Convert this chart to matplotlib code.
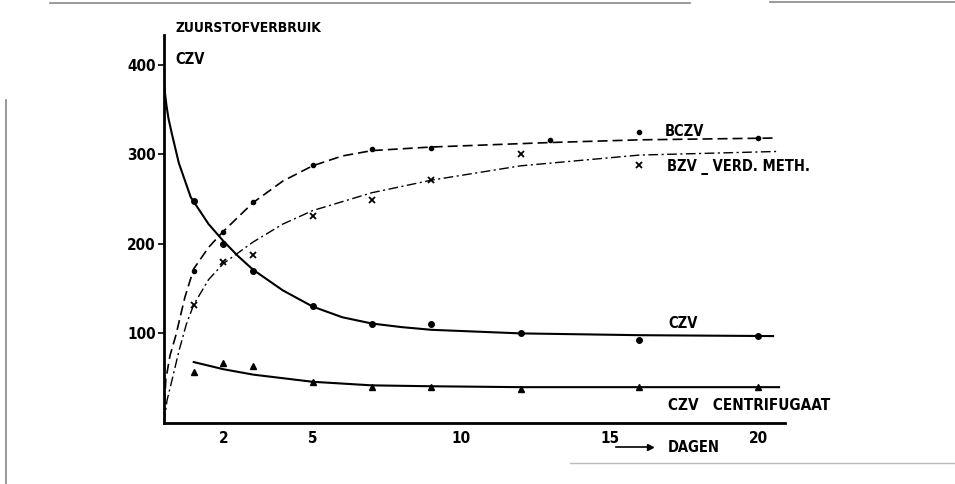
import matplotlib.pyplot as plt
from matplotlib.lines import Line2D

plt.rcParams['font.family'] = ['DejaVu Sans']
plt.rcParams['font.stretch'] = 'condensed'

# gemeten punten (dagen, mg O2/l)
dagen_czv = [1, 2, 3, 5, 7, 9, 12, 16, 20]
czv = [248, 200, 170, 131, 110, 111, 100, 93, 97]

dagen_bczv = [1, 2, 3, 5, 7, 9, 13, 16, 20]
bczv = [170, 213, 247, 288, 306, 307, 316, 325, 318]

dagen_bzv = [1, 2, 3, 5, 7, 9, 12, 16]
bzv = [132, 180, 187, 231, 249, 271, 300, 288]

dagen_centr = [1, 2, 3, 5, 7, 9, 12, 16, 20]
czv_centr = [57, 67, 64, 46, 40, 40, 38, 40, 40]

# getekende verloopcurves
curve_czv_x = [0, 0.03, 0.08, 0.15, 0.27, 0.5, 0.9, 1.5, 2, 2.5, 3, 4, 5, 6, 7, 8, 9, 12, 16, 20.5]
curve_czv_y = [380, 369, 355, 340, 322, 290, 252, 222, 203, 186, 171, 148, 130, 118, 111, 107, 104, 100, 98, 97]

curve_bczv_x = [0, 0.06, 0.2, 0.4, 0.7, 1, 1.5, 2, 3, 4, 5, 6, 7, 9, 13, 16, 20.5]
curve_bczv_y = [5, 48, 75, 98, 140, 172, 196, 214, 246, 270, 287, 298, 304, 308, 313, 316, 318]

curve_bzv_x = [0, 0.1, 0.27, 0.5, 0.75, 1, 1.5, 2, 3, 4, 5, 7, 8, 9, 12, 16, 20.6]
curve_bzv_y = [0, 25, 48, 80, 110, 132, 160, 178, 202, 222, 237, 257, 264, 271, 287, 299, 303]

curve_centr_x = [1, 2, 3, 4, 5, 7, 9, 12, 16, 20.7]
curve_centr_y = [68, 60, 54, 50, 46, 42, 41, 40, 40, 40]

fig = plt.figure(figsize=(9.55, 4.84), dpi=100)
ax = fig.add_axes([164 / 955, 61 / 484, 621 / 955, 388 / 484])

ax.plot(curve_czv_x, curve_czv_y, color='black', lw=1.5)
ax.plot(dagen_czv, czv, 'o', color='black', ms=4)

ax.plot(curve_bczv_x, curve_bczv_y, color='black', lw=1.2, dashes=(6, 3))
ax.plot(dagen_bczv, bczv, 'o', color='black', ms=3)

ax.plot(curve_bzv_x, curve_bzv_y, color='black', lw=1.0, dashes=(7, 2.5, 1.5, 2.5))
ax.plot(dagen_bzv, bzv, 'x', color='black', ms=5, mew=1.3)

ax.plot(curve_centr_x, curve_centr_y, color='black', lw=1.5)
ax.plot(dagen_centr, czv_centr, '^', color='black', ms=4)

ax.set_xlim(0, 20.9)
ax.set_ylim(0, 433)
ax.set_xticks([2, 5, 10, 15, 20])
ax.set_yticks([100, 200, 300, 400])
ax.tick_params(axis='x', length=0, pad=6, labelsize=11)
ax.tick_params(axis='y', length=4, width=1.2, pad=2, labelsize=11)
for lab in ax.get_xticklabels() + ax.get_yticklabels():
    lab.set_fontweight('bold')
for s in ['top', 'right']:
    ax.spines[s].set_visible(False)
for s in ['left', 'bottom']:
    ax.spines[s].set_linewidth(2)

txt = dict(color='black', fontsize=10.5, fontweight='bold', va='center', ha='left')
fig.text(175 / 955, 1 - 28 / 484, 'ZUURSTOFVERBRUIK', **dict(txt, fontsize=10))
fig.text(175 / 955, 1 - 60 / 484, 'CZV', **txt)
fig.text(665 / 955, 1 - 131 / 484, 'BCZV', **txt)
fig.text(667 / 955, 1 - 167 / 484, 'BZV _ VERD. METH.', **txt)
fig.text(668 / 955, 1 - 323 / 484, 'CZV', **txt)
fig.text(668 / 955, 1 - 405 / 484, 'CZV   CENTRIFUGAAT', **dict(txt, fontsize=11))
fig.text(668 / 955, 1 - 448 / 484, 'DAGEN', **txt)
fig.add_artist(Line2D([616 / 955, 650 / 955], [1 - 447 / 484] * 2, color='black', lw=1.2))
fig.add_artist(Line2D([650 / 955], [1 - 447 / 484], marker='>', color='black', ms=5))

# randen van het gescande blad
grijs = dict(color='#888888', lw=1.2)
fig.add_artist(Line2D([50 / 955, 690 / 955], [1 - 3 / 484] * 2, **grijs))
fig.add_artist(Line2D([770 / 955, 1], [1 - 2 / 484] * 2, **grijs))
fig.add_artist(Line2D([6 / 955] * 2, [0, 1 - 100 / 484], **grijs))
fig.add_artist(Line2D([570 / 955, 1], [1 - 463 / 484] * 2, color='#bbbbbb', lw=1))

fig.savefig('out.png', dpi=100)
